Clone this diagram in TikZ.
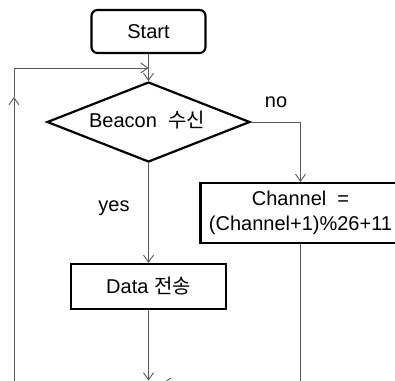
\documentclass[tikz,border=0pt]{standalone}
\usepackage{fontspec}
\setmainfont{Liberation Sans}
\newfontfamily\kr{Noto Sans CJK KR}
\usetikzlibrary{shapes.geometric,arrows.meta}
\begin{document}
\begin{tikzpicture}[x=1pt,y=-1pt,
  font=\fontsize{20}{25}\selectfont,
  boxline/.style={draw=black,line width=2.2pt,inner sep=0pt},
  flowbox/.style={boxline,rectangle,align=center},
  link/.style={draw=black!65,line width=0.9pt},
  tip/.style={-{Straight Barb[length=7pt,width=10pt,line width=0.9pt]}},
  lbl/.style={inner sep=0pt}]
\clip (0,0) rectangle (395,380);
\fill[white] (0,0) rectangle (395,380);

\node[boxline,rectangle,rounded corners=6pt,minimum width=114pt,minimum height=43pt] (start) at (148.5,31.5) {Start};
\node[boxline,diamond,aspect=2.54,minimum width=203pt,minimum height=80pt] (beacon) at (148.5,122) {};
\node[inner sep=0pt] (beacontext) at (147,120) {Beacon\ \ {\kr 수신}};
\node[flowbox,minimum width=200pt,minimum height=60pt] (chan) at (300.5,213) {Channel\ \ =\\(Channel+1)\%26+11};
\node[flowbox,minimum width=155pt,minimum height=45pt] (data) at (148.5,286.5) {\raisebox{3pt}{Data\ {\kr 전송}}};

\node[lbl] (no) at (276,102) {no};
\node[lbl] (yes) at (114,208) {yes};

\coordinate (join) at (148.5,68);
\coordinate (lcorner) at (14,68);
\coordinate (lmid) at (14,97);
\coordinate (lbottom) at (14,395);
\coordinate (rturn) at (300.5,122);
\coordinate (bottom) at (148.5,380.5);
\coordinate (rbottom) at (300.5,383);
\coordinate (back) at (163,383);

% main flow
\draw[link,tip] (start) -- (beacon.north);
\draw[link,tip] (beacon.south) -- (data.north);
\draw[link,tip] (data.south) -- (bottom);
% no branch
\draw[link,tip] (beacon.east) -- (rturn) -- (chan.north);
\draw[link,tip] (chan.south) -- (rbottom) -- (back);
% loop back to the decision
\draw[link,tip] (lbottom) -- (lmid);
\draw[link,tip] (lmid) -- (lcorner) -- (join);
\end{tikzpicture}
\end{document}
